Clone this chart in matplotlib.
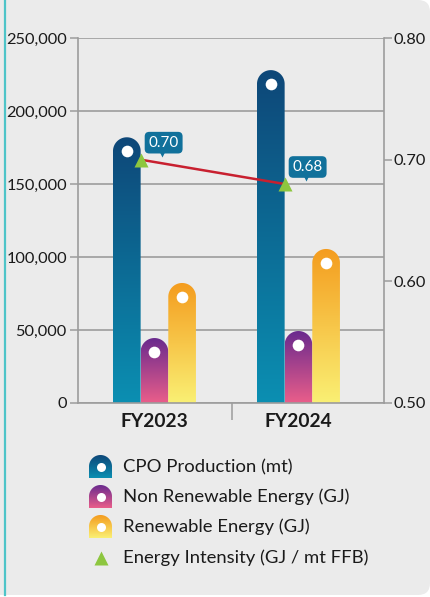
import numpy as np
import matplotlib.pyplot as plt
from matplotlib.path import Path
from matplotlib.patches import PathPatch, FancyBboxPatch
from matplotlib.colors import to_rgb
from matplotlib.ticker import FuncFormatter
from matplotlib.transforms import offset_copy

# data
years = ["FY2023", "FY2024"]
cpo = [182000, 228000]
non_renewable = [44500, 49300]
renewable = [82200, 105500]
intensity = [0.70, 0.68]

series_names = ["CPO Production (mt)", "Non Renewable Energy (GJ)", "Renewable Energy (GJ)"]
intensity_name = "Energy Intensity (GJ / mt FFB)"
series_colors = [("#0e4778", "#0b8fb2"),   # top, bottom
                 ("#6a2a8e", "#ea5e8a"),
                 ("#f49c1e", "#faf074")]

plt.rcParams['font.family'] = ['Lato', 'DejaVu Sans']

W, H = 430, 597
fig = plt.figure(figsize=(W / 100, H / 100), dpi=100, facecolor="white")


def gradient_tab(axis, xc, hw, top, bottom, ry, c_top, c_bot, z=2):
    # rectangle with a rounded top, filled with a vertical gradient
    t = np.linspace(np.pi, 0, 50)
    cy = top - ry
    arc = np.column_stack([xc + hw * np.cos(t), cy + ry * np.sin(t)])
    verts = np.vstack([[xc - hw, bottom], arc, [xc + hw, bottom], [xc - hw, bottom]])
    codes = [Path.MOVETO] + [Path.LINETO] * (len(verts) - 2) + [Path.CLOSEPOLY]
    clip = PathPatch(Path(verts, codes), transform=axis.transData, fc="none", ec="none")
    axis.add_patch(clip)
    g = np.linspace(0, 1, 256)[:, None, None]
    rgb = (1 - g) * np.array(to_rgb(c_bot)) + g * np.array(to_rgb(c_top))
    im = axis.imshow(rgb, extent=(xc - hw, xc + hw, bottom, top), origin="lower",
                     aspect="auto", interpolation="bilinear", zorder=z)
    im.set_clip_path(clip)
    return cy


# background panel
bg = fig.add_axes([0, 0, 1, 1], zorder=0)
bg.set_xlim(0, W)
bg.set_ylim(H, 0)
bg.axis("off")
bg.add_patch(FancyBboxPatch((-30, 0), W + 30, 595, boxstyle="round,pad=0,rounding_size=12",
                            fc="#ebebeb", ec="none"))
bg.plot([4.5, 4.5], [0, 595], color="#4ec4c8", lw=1.6)

# main axes
ax = fig.add_axes([78 / W, 1 - 403 / H, (384 - 78) / W, (403 - 38) / H], zorder=1)
ax.patch.set_visible(False)
xlim = (-0.531, 1.594)
ylim = (0, 250000)
ax.set_xlim(*xlim)
ax.set_ylim(*ylim)

bw = 0.192
pos = ax.get_position()
px_x = pos.width * W / (xlim[1] - xlim[0])
px_y = pos.height * H / (ylim[1] - ylim[0])
ry = (bw / 2) * px_x / px_y

for k, vals in enumerate([cpo, non_renewable, renewable]):
    for i, v in enumerate(vals):
        xc = i + (k - 1) * bw
        cy = gradient_tab(ax, xc, bw / 2, v, 0, ry, *series_colors[k], z=2)
        ax.plot(xc, cy, "o", ms=8.4, color="white", mec="none", zorder=3)

ax.set_xlim(*xlim)
ax.set_ylim(*ylim)
ax.set_yticks(np.arange(0, 250001, 50000))
ax.yaxis.set_major_formatter(FuncFormatter(lambda v, p: f"{v:,.0f}"))
ax.grid(axis="y", color="#9c9c9c", lw=1.2, zorder=0)
ax.set_axisbelow(True)
ax.set_xticks([0, 1], years)
ax.set_xticks([0.54], minor=True)
ax.tick_params(axis="x", which="major", length=0, pad=7, labelsize=13.8)
ax.tick_params(axis="x", which="minor", length=12, color="#9c9c9c", width=1.1)
ax.tick_params(axis="y", length=6, pad=2, color="#9c9c9c", width=1.1,
               labelsize=11.8, labelcolor="#1a1a1a")
for lab in ax.get_xticklabels():
    lab.set_fontweight("bold")
    lab.set_color("#1a1a1a")
for s in ["top", "right"]:
    ax.spines[s].set_visible(False)
for s in ["left", "bottom"]:
    ax.spines[s].set_color("#9c9c9c")
    ax.spines[s].set_linewidth(1.2)

# intensity on secondary axis
ax2 = ax.twinx()
ax2.set_ylim(0.5, 0.8)
ax2.set_yticks([0.5, 0.6, 0.7, 0.8])
ax2.yaxis.set_major_formatter(FuncFormatter(lambda v, p: f"{v:.2f}"))
ax2.tick_params(axis="y", length=6, pad=1, color="#9c9c9c", width=1.1,
                labelsize=11.8, labelcolor="#1a1a1a")
for s in ["top", "left", "bottom"]:
    ax2.spines[s].set_visible(False)
ax2.spines["right"].set_color("#9c9c9c")
ax2.spines["right"].set_linewidth(1.2)

xs = [i - bw / 2 for i in range(len(years))]
ax2.plot(xs, intensity, color="#c8202f", lw=1.8, zorder=3)
ax2.plot(xs, intensity, "^", ms=10, color="#8dc63f", mec="none", zorder=4)
ptr = offset_copy(ax2.transData, fig=fig, x=21, y=6, units="dots")
for x, v in zip(xs, intensity):
    ax2.annotate(f"{v:.2f}", (x, v), xytext=(23, 17), textcoords="offset pixels",
                 ha="center", va="center", color="white", fontsize=11, zorder=5,
                 bbox=dict(boxstyle="round,pad=0.25,rounding_size=0.3", fc="#11719b", ec="none"))
    ax2.plot(x, v, "v", ms=5, color="#11719b", mec="none", transform=ptr, zorder=5)

ax.set_xlim(*xlim)
ax2.set_xlim(*xlim)

# legend
rows = [467, 497, 527, 558]
for k, name in enumerate(series_names):
    yc = rows[k]
    cy = gradient_tab(bg, 100.5, 11.5, yc - 12, yc + 11, -11.5, *series_colors[k], z=2)
    bg.plot(100.5, cy, "o", ms=6.5, color="white", mec="none", zorder=3)
    bg.text(123, yc, name, va="center", ha="left", fontsize=13.3, color="#1a1a1a")
bg.plot(101, rows[3], "^", ms=10, color="#8dc63f", mec="none")
bg.text(123, rows[3], intensity_name, va="center", ha="left", fontsize=13.3, color="#1a1a1a")

fig.savefig("out.png", dpi=100, facecolor=fig.get_facecolor())
